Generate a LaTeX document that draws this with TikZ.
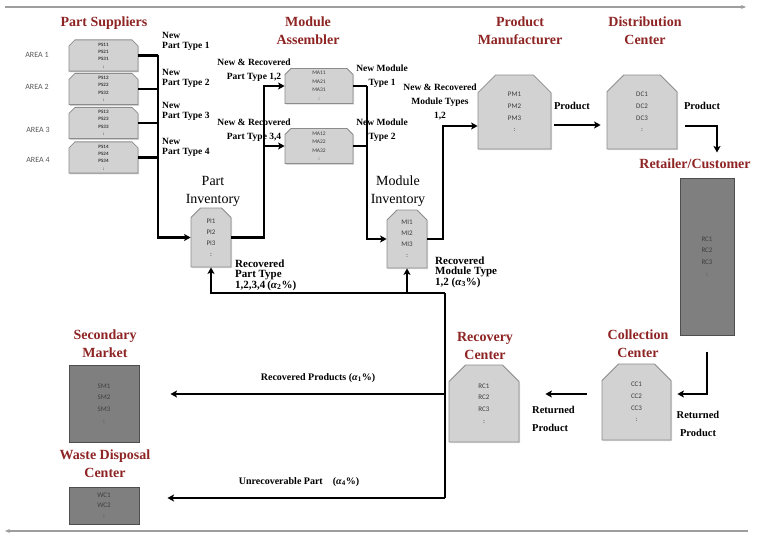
\documentclass[tikz,border=0pt]{standalone}
\usepackage{fontspec}
\setmainfont{Liberation Serif}
\newfontfamily\boxfont{Carlito}
\usetikzlibrary{arrows.meta,shapes.misc,shadows,calc}
\definecolor{ttl}{HTML}{8E2424}
\definecolor{lbox}{HTML}{D2D2D2}
\definecolor{lboxedge}{HTML}{8C8C8C}
\definecolor{dbox}{HTML}{7F7F7F}
\definecolor{dboxedge}{HTML}{4E4E4E}
\definecolor{btxt}{HTML}{3C3C3C}
\definecolor{guide}{HTML}{9E9E9E}
\begin{document}
\begin{tikzpicture}[x=1pt,y=-1pt,
  title/.style={font=\bfseries\fontsize{14}{18}\selectfont, text=ttl, align=center, inner sep=0pt},
  invlbl/.style={font=\fontsize{14}{18}\selectfont, align=center, inner sep=0pt},
  lbl/.style={font=\bfseries\fontsize{9.5}{14}\selectfont, align=center, inner sep=0pt},
  lbltight/.style={font=\bfseries\fontsize{9.5}{10}\selectfont, align=left, inner sep=0pt, anchor=west},
  reclbl/.style={font=\bfseries\fontsize{11}{10}\selectfont, align=left, inner sep=0pt, anchor=west},
  bigl/.style={font=\bfseries\fontsize{10.5}{18}\selectfont, inner sep=0pt},
  flowl/.style={font=\bfseries\fontsize{10}{12}\selectfont, inner sep=0pt},
  area/.style={font=\boxfont\fontsize{8}{9}\selectfont, text=black!65, inner sep=0pt},
  shd/.style={drop shadow={shadow xshift=1.2pt, shadow yshift=-1.2pt, opacity=0.3}},
  cbox/.style={chamfered rectangle, chamfered rectangle corners={north west, north east},
    draw=lboxedge, fill=lbox, line width=0.8pt, inner sep=0pt, align=center, text=btxt, shd},
  psbox/.style={cbox, minimum width=69pt, chamfered rectangle xsep=3pt, chamfered rectangle ysep=3pt,
    font=\boxfont\bfseries\fontsize{5}{7.3}\selectfont},
  mabox/.style={cbox, minimum width=68pt, minimum height=32pt, chamfered rectangle xsep=3pt, chamfered rectangle ysep=3pt,
    font=\boxfont\fontsize{5.5}{8.5}\selectfont},
  invbox/.style={cbox, minimum width=40pt, chamfered rectangle xsep=5pt, chamfered rectangle ysep=5pt,
    font=\boxfont\fontsize{7}{11}\selectfont},
  bigbox/.style={cbox, chamfered rectangle xsep=11pt, chamfered rectangle ysep=11pt,
    font=\boxfont\fontsize{7}{11.7}\selectfont},
  dkbox/.style={rectangle, draw=dboxedge, fill=dbox, line width=1pt, inner sep=0pt, align=center,
    text=black!75, font=\boxfont\fontsize{7}{11.7}\selectfont, shd},
  conn/.style={line width=2.1pt, line join=miter},
  arr/.style={-{Stealth[length=6.5pt,width=7pt,inset=1.5pt]}},
  guidearr/.style={line width=1.3pt, draw=guide, -{Stealth[length=5pt,width=4pt]}}
]
\useasboundingbox (0,0) rectangle (757,535);

% guide arrows
\coordinate (gtl) at (5,7);
\coordinate (gtr) at (746,7);
\draw[guidearr] (gtl) -- (gtr);
\coordinate (gbr) at (748,531);
\coordinate (gbl) at (5,531);
\draw[guidearr] (gbr) -- (gbl);

% titles
\node[title] (tps) at (104,23) {Part Suppliers};
\node[title] (tma) at (308,31) {Module\\Assembler};
\node[title] (tpm) at (520,31) {Product\\Manufacturer};
\node[title] (tdc) at (645,31) {Distribution\\Center};
\node[title] (tret) at (695,164) {Retailer/Customer};
\node[title] (tcc) at (638,344) {Collection\\Center};
\node[title] (trc) at (485,346) {Recovery\\Center};
\node[title] (tsm) at (105,344) {Secondary\\Market};
\node[title] (twd) at (105,464) {Waste Disposal\\Center};
\node[invlbl] (tpi) at (213,191) {Part\\Inventory};
\node[invlbl] (tmi) at (398,191) {Module\\Inventory};

% areas
\node[area] (a1) at (37,55) {AREA 1};
\node[area] (a2) at (37,87) {AREA 2};
\node[area] (a3) at (38,130) {AREA 3};
\node[area] (a4) at (38,160) {AREA 4};

% part suppliers
\node[psbox, minimum height=27pt] (ps1) at (103.5,55.5) {PS11\\PS21\\PS31\\:};
\node[psbox, minimum height=28pt] (ps2) at (103.5,89) {PS12\\PS22\\PS32\\:};
\node[psbox, minimum height=28pt] (ps3) at (103.5,123) {PS13\\PS23\\PS33\\:};
\node[psbox, minimum height=29pt] (ps4) at (103.5,157.5) {PS14\\PS24\\PS34\\:};

\node[lbltight] (l1) at (162,41) {New\\Part Type 1};
\node[lbltight] (l2) at (162,78) {New\\Part Type 2};
\node[lbltight] (l3) at (162,111.5) {New\\Part Type 3};
\node[lbltight] (l4) at (162,147.5) {New\\Part Type 4};

% module assembler
\node[mabox] (ma1) at (319,86) {MA11\\MA21\\MA31\\:};
\node[mabox] (ma2) at (319,146) {MA12\\MA22\\MA32\\:};

% inventories
\node[invbox, minimum height=59pt] (pi) at (211,237.5) {PI1\\PI2\\PI3\\:};
\node[invbox, minimum height=58pt] (mi) at (407,239) {MI1\\MI2\\MI3\\:};

% big boxes
\node[bigbox, minimum width=73pt, minimum height=74pt] (pm) at (514.5,112) {PM1\\PM2\\PM3\\:};
\node[bigbox, minimum width=70pt, minimum height=74pt] (dc) at (642,112) {DC1\\DC2\\DC3\\:};
\node[dkbox, minimum width=54pt, minimum height=157pt] (ret) at (707,256.5) {RC1\\RC2\\RC3\\:};
\node[bigbox, minimum width=69pt, minimum height=76pt] (cc) at (636.5,402) {CC1\\CC2\\CC3\\:};
\node[bigbox, minimum width=70pt, minimum height=77pt] (rc) at (484,403.5) {RC1\\RC2\\RC3\\:};
\node[dkbox, minimum width=70pt, minimum height=77pt] (sm) at (104,403.5) {SM1\\SM2\\SM3\\:};
\node[dkbox, minimum width=70pt, minimum height=37pt, font=\boxfont\fontsize{7}{10.5}\selectfont] (wc) at (104,505.5) {WC1\\WC2\\:};

% connectors: suppliers -> part inventory
\coordinate (j1) at (158,55);
\draw[conn] (ps1.east) -- (ps1.east -| j1);
\draw[conn] (ps2.east) -- (ps2.east -| j1);
\draw[conn] (ps3.east) -- (ps3.east -| j1);
\draw[conn] (ps4.east) -- (ps4.east -| j1);
\draw[conn,arr] (ps1.east -| j1) |- (pi.west);

% part inventory -> module assemblers
\coordinate (j2) at (264,86);
\draw[conn,arr] (pi.east) -| (j2) -- (ma1.west);
\draw[conn,arr] (ma2.west -| j2) -- (ma2.west);

% module assemblers -> module inventory
\coordinate (j3) at (367,86);
\draw[conn] (ma1.east) -- (j3);
\draw[conn] (ma2.east) -- (ma2.east -| j3);
\draw[conn,arr] (j3) |- (mi.west);

% module inventory -> product manufacturer
\coordinate (j4) at (443,126);
\draw[conn,arr] (mi.east) -| (j4) -- (j4 -| pm.west);

% forward flow
\draw[conn,arr] ($(pm.east)+(3,13)$) -- ($(dc.west)+(-6,13)$);
\draw[conn,arr] ($(dc.east)+(8,14)$) -| ($(ret.north)+(10,-25)$);
\draw[conn,arr] ($(ret.south)+(0,16)$) |- ($(cc.east)+(6,-8)$);
\draw[conn,arr] ($(cc.west)+(-15,-8)$) -- ($(rc.east)+(26,-9.5)$);

% reverse flow
\coordinate (j5) at (445,293);
\coordinate (j6) at (445,498);
\draw[conn] (j5) -- (j6);
\draw[conn,arr] (j5) -| (pi.south);
\draw[conn,arr] (j5 -| mi.south) -- (mi.south);
\coordinate (t1) at ($(sm.east)+(31,-9.5)$);
\draw[conn,arr] (j5 |- t1) -- (t1);
\coordinate (t2) at ($(wc.east)+(28,-7.5)$);
\draw[conn,arr] (j6) -- (t2);

% labels
\node[lbl] (lma1) at (254,70) {New \& Recovered\\Part Type 1,2};
\node[lbl] (lma2) at (254,130) {New \& Recovered\\Part Type 3,4};
\node[lbl] (lnm1) at (382,76) {New Module\\Type 1};
\node[lbl] (lnm2) at (382,130) {New Module\\Type 2};
\node[lbl] (lnrm) at (440,102) {New \& Recovered\\Module Types\\1,2};
\node[reclbl] (lrpt) at (235,275) {Recovered\\Part Type\\1,2,3,4\,(\textit{α}\textsubscript{2}\%)};
\node[reclbl] (lrmt) at (435,272) {Recovered\\Module Type\\1,2 (\textit{α}\textsubscript{3}\%)};
\node[bigl] (lp1) at (572,106) {Product};
\node[bigl] (lp2) at (702,106) {Product};
\node[bigl, align=left, anchor=west] (lret1) at (532,419) {Returned\\Product};
\node[bigl, align=center] (lret2) at (698,424) {Returned\\Product};
\node[flowl] (lrec) at (318,378) {Recovered Products (\textit{α}\textsubscript{1}\%)};
\node[flowl] (lunr) at (299,482) {Unrecoverable Part\quad(\textit{α}\textsubscript{4}\%)};
\end{tikzpicture}
\end{document}
